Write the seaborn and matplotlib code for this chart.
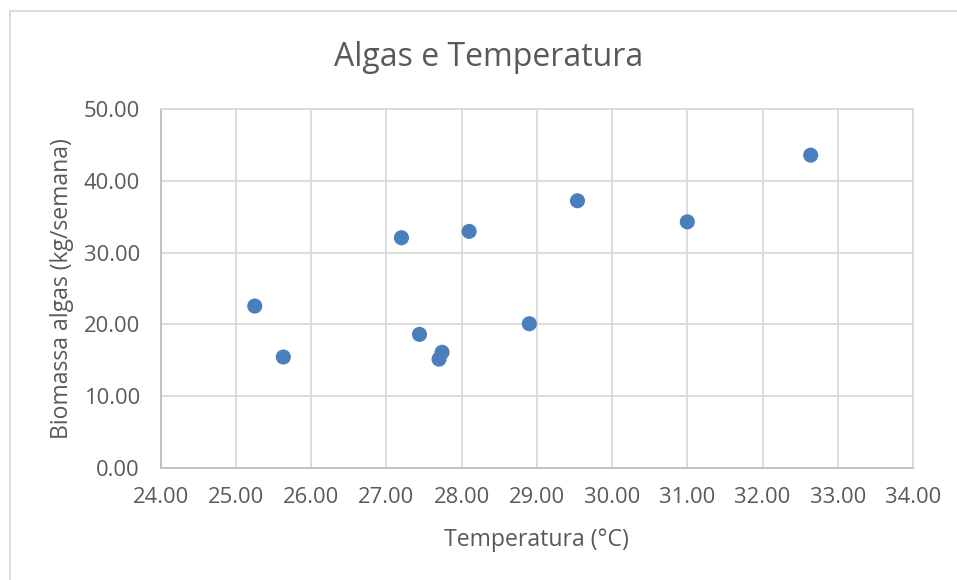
import matplotlib
matplotlib.use("Agg")
import matplotlib.pyplot as plt
from matplotlib.lines import Line2D
from matplotlib.ticker import FormatStrFormatter, MultipleLocator
import seaborn as sns
import pandas as pd

# Water temperature (°C) and weekly algae biomass (kg/semana)
temperatura = [25.25, 25.63, 27.20, 27.44, 27.74, 27.70, 28.10, 28.90, 29.54, 31.00, 32.64]
biomassa = [22.55, 15.44, 32.08, 18.60, 16.10, 15.15, 32.97, 20.08, 37.24, 34.30, 43.60]

titulo = "Algas e Temperatura"
rotulo_x = "Temperatura (°C)"
rotulo_y = "Biomassa algas (kg/semana)"

df = pd.DataFrame({"temperatura": temperatura, "biomassa": biomassa})

sns.set_style("white")
plt.rcParams["font.family"] = ["Open Sans", "DejaVu Sans"]

texto = "#595959"
grade = "#D9D9D9"
eixo = "#BFBFBF"
azul = "#4A7EBC"

W, H = 957, 580
fig = plt.figure(figsize=(W / 100, H / 100), dpi=100)
fig.patch.set_facecolor("white")

left, right, top, bottom = 160.7, 913.0, 109.3, 467.7
ax = fig.add_axes([left / W, 1 - bottom / H, (right - left) / W, (bottom - top) / H])

sns.scatterplot(data=df, x="temperatura", y="biomassa", ax=ax,
                s=118, color=azul, edgecolor="none", linewidth=0, zorder=3)

ax.set_xlim(24, 34)
ax.set_ylim(0, 50)
ax.xaxis.set_major_locator(MultipleLocator(1))
ax.yaxis.set_major_locator(MultipleLocator(10))
ax.xaxis.set_major_formatter(FormatStrFormatter("%.2f"))
ax.yaxis.set_major_formatter(FormatStrFormatter("%.2f"))

ax.grid(True, color=grade, linewidth=1.3, zorder=0)
ax.set_axisbelow(True)
for lado in ("top", "right"):
    ax.spines[lado].set_color(grade)
    ax.spines[lado].set_linewidth(1.3)
for lado in ("left", "bottom"):
    ax.spines[lado].set_color(eixo)
    ax.spines[lado].set_linewidth(1.3)

ax.tick_params(axis="both", length=0, labelsize=15.8, labelcolor=texto)
ax.tick_params(axis="x", pad=14)
ax.tick_params(axis="y", pad=15)

ax.set_xlabel(rotulo_x, fontsize=16.6, color=texto)
ax.set_ylabel(rotulo_y, fontsize=16.6, color=texto)
ax.xaxis.label.set_va("center")
ax.yaxis.label.set_va("center")
ax.xaxis.set_label_coords(0.5, (bottom - 540) / (bottom - top))
ax.yaxis.set_label_coords((62 - left) / (right - left), 0.5)

fig.text(489 / W, 1 - 58 / H, titulo, fontsize=23, color=texto,
         ha="center", va="center")

# Chart area border (left and top edges fall inside the image)
bx, by = 9.5 / W, 1 - 10.5 / H
fig.add_artist(Line2D([bx, bx], [by, 0], transform=fig.transFigure,
                      color=grade, linewidth=1.3))
fig.add_artist(Line2D([bx, 1], [by, by], transform=fig.transFigure,
                      color=grade, linewidth=1.3))

fig.savefig("out.png", dpi=100, facecolor="white")
